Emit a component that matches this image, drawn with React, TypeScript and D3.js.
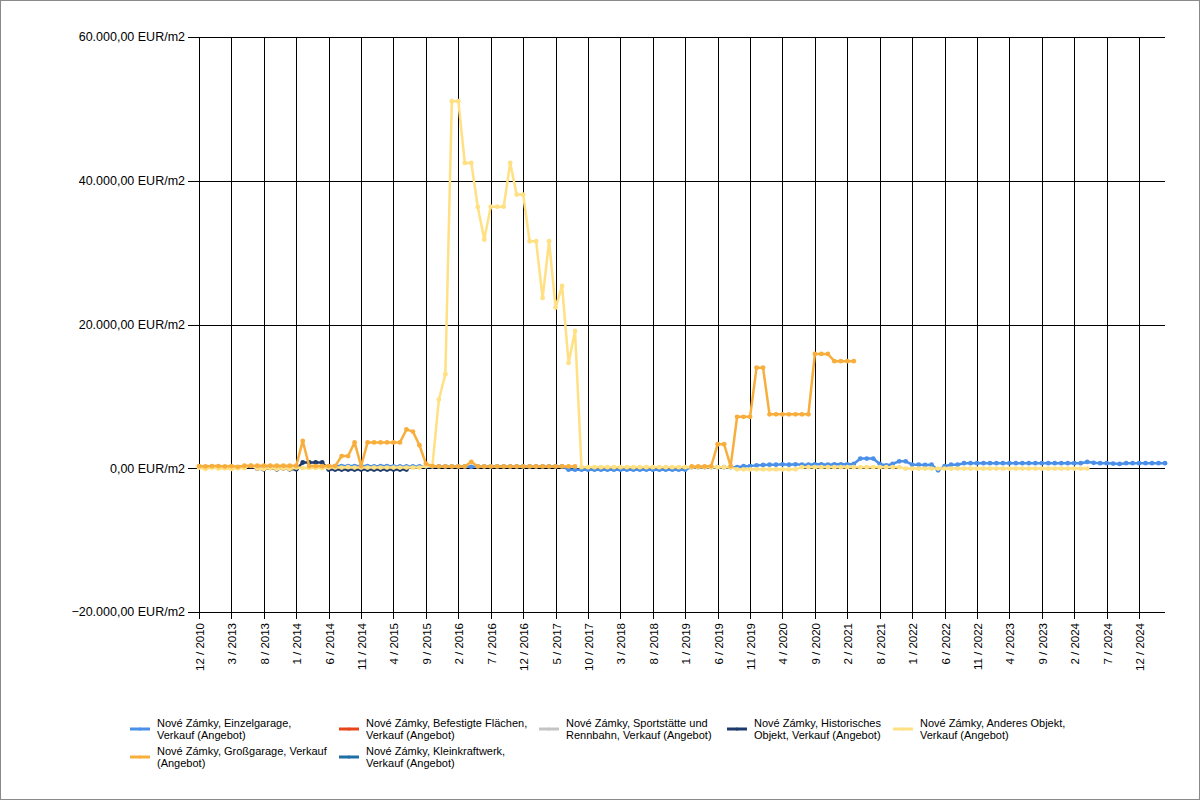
import * as d3 from "d3";

// month categories (x axis), one per data point
function monthRange(y0: number, m0: number, y1: number, m1: number, skip: string[] = []) {
  const out: string[] = [];
  let y = y0, m = m0;
  while (y < y1 || (y === y1 && m <= m1)) {
    const s = `${m} / ${y}`;
    if (!skip.includes(s)) out.push(s);
    m++;
    if (m > 12) { m = 1; y++; }
  }
  return out;
}

const categories: string[] = [
  "12 / 2010", "8 / 2012", "10 / 2012", "12 / 2012", "2 / 2013",
  ...monthRange(2013, 3, 2025, 4, ["5 / 2021"]),
];

const yTicks = [-20000, 0, 20000, 40000, 60000];

const einzelgarage: (number | null)[] = [
  null, null, null, null, null, null, null, null, null, null,
  null, null, null, null, null, null, null, null, null, null,
  250, 300, 300, 300, 300, 300, 300, 250, 300, 300,
  250, 250, 250, 250, 250, 250, 250, 250, 250, 250,
  250, 250, 200, 250, 250, 250, 250, 250, 250, 250,
  250, 250, 250, 250, 250, 250, 250, -200, -200, -200,
  -200, -200, -200, -200, -200, -200, -200, -200, -200, -200,
  -200, -200, -200, -200, -200, -200, 150, 150, 150, 150,
  150, 150, 150, 150, 280, 300, 400, 450, 500, 500,
  550, 500, 550, 500, 500, 550, 550, 500, 550, 550,
  550, 600, 1350, 1350, 1350, 600, 400, 600, 970, 970,
  500, 500, 450, 500, -280, 280, 500, 500, 700, 700,
  700, 700, 700, 700, 700, 700, 700, 700, 700, 700,
  700, 700, 700, 700, 700, 700, 700, 880, 750, 700,
  700, 650, 600, 700, 700, 700, 700, 700, 700, 700,
];

const befestigte: (number | null)[] = [];
const sportstaette: (number | null)[] = [];

const historisches: (number | null)[] = [
  null, null, null, null, null, null, null, 100, 250, -50,
  -150, 50, -150, 0, -150, -150, 800, 800, 800, 800,
  -180, -180, -180, -180, -180, -180, -180, -180, -180, -180,
  -180, -180, -180,
];

const anderes: (number | null)[] = [
  100, -100, 100, -50, 0, -100, 0, 50, 400, -50,
  -100, 50, -100, 0, -100, 100, 50, 50, 50, 50,
  100, 100, 100, 150, 100, 100, 100, 100, 100, 100,
  100, 100, 100, 100, 100, 300, 300, 9560, 13080, 51060,
  51060, 42480, 42480, 36360, 31810, 36400, 36400, 36400, 42480, 38080,
  38080, 31580, 31580, 23700, 31600, 22350, 25370, 14650, 19100, 150,
  150, 150, 150, 150, 150, 150, 150, 150, 150, 150,
  150, 150, 150, 150, 150, 150, 150, 150, 150, 150,
  150, 150, 150, -150, -150, -150, -150, -150, -150, -150,
  -150, -150, -150, 150, 150, 150, 150, 150, 150, 150,
  150, 150, 150, 150, 150, 150, 150, 150, 150, -50,
  -50, -50, -50, -50, -50, -50, -50, -50, -50, -50,
  -50, -50, -50, -50, -50, -50, -50, -50, -50, -50,
  -50, -50, -50, -50, -50, -50, -50, -50,
];

const grossgarage: (number | null)[] = [
  300, 250, 300, 300, 250, 300, 200, 350, 350, 350,
  350, 350, 350, 350, 350, 350, 3800, 300, 300, 300,
  300, 300, 1700, 1700, 3600, 300, 3600, 3600, 3600, 3600,
  3600, 3600, 5400, 5100, 3200, 650, 300, 250, 250, 250,
  250, 250, 900, 250, 250, 250, 250, 250, 250, 250,
  250, 250, 250, 250, 250, 250, 250, 250, 250, null,
  null, null, null, null, null, null, null, null, null, null,
  null, null, null, null, null, null, 250, 250, 250, 300,
  3340, 3340, 300, 7150, 7150, 7150, 14000, 14000, 7500, 7500,
  7500, 7500, 7500, 7500, 7500, 15900, 15900, 15900, 14900, 14900,
  14900, 14900,
];

const kleinkraftwerk: (number | null)[] = [];

interface Series {
  key: string;
  label: string[];
  color: string;
  values: (number | null)[];
}

// drawing order = legend order (legend is 5 columns, filled row by row)
const series: Series[] = [
  { key: "einzel", label: ["Nové Zámky, Einzelgarage,", "Verkauf (Angebot)"], color: "#4a8fe8", values: einzelgarage },
  { key: "befest", label: ["Nové Zámky, Befestigte Flächen,", "Verkauf (Angebot)"], color: "#e8441a", values: befestigte },
  { key: "sport", label: ["Nové Zámky, Sportstätte und", "Rennbahn, Verkauf (Angebot)"], color: "#c4c4c4", values: sportstaette },
  { key: "hist", label: ["Nové Zámky, Historisches", "Objekt, Verkauf (Angebot)"], color: "#1c3a6b", values: historisches },
  { key: "andere", label: ["Nové Zámky, Anderes Objekt,", "Verkauf (Angebot)"], color: "#ffe082", values: anderes },
  { key: "gross", label: ["Nové Zámky, Großgarage, Verkauf", "(Angebot)"], color: "#f8ae3c", values: grossgarage },
  { key: "klein", label: ["Nové Zámky, Kleinkraftwerk,", "Verkauf (Angebot)"], color: "#1f6ea6", values: kleinkraftwerk },
];

const W = 1200;
const H = 800;
const plot = { left: 199, right: 1165, top: 37, bottom: 612 };
const FONT = "'Liberation Sans', Arial, sans-serif";

const de = d3.formatLocale({ decimal: ",", thousands: ".", grouping: [3], currency: ["", ""] });
const fmt = de.format(",.2f");

export default function App() {
  const x = d3.scaleLinear().domain([0, categories.length - 1]).range([plot.left, plot.right]);
  const y = d3.scaleLinear().domain([-20000, 60000]).range([plot.bottom, plot.top]);

  const xTickIdx = d3.range(0, categories.length, 5);

  const line = d3
    .line<number | null>()
    .defined((d) => d != null)
    .x((_, i) => x(i))
    .y((d) => y(d as number));

  const legendCols = [130, 339, 539, 727, 893];
  const legendRows = [729, 757];

  return (
    <svg
      width={W}
      height={H}
      style={{ position: "fixed", left: 0, top: 0, background: "#fff" }}
      fontFamily={FONT}
    >
      <rect x={0.5} y={0.5} width={W - 1} height={H - 1} fill="#fff" stroke="#8a8a8a" />

      {/* horizontal grid + y ticks */}
      {yTicks.map((t) => (
        <g key={t}>
          <line x1={188} x2={plot.right} y1={Math.round(y(t)) + 0.5} y2={Math.round(y(t)) + 0.5} stroke="#000" />
          <text x={185} y={y(t)} dy="0.35em" textAnchor="end" fontSize={12.5} fill="#000">
            {fmt(t)} EUR/m2
          </text>
        </g>
      ))}

      {/* vertical grid + x ticks */}
      {xTickIdx.map((i) => {
        const px = Math.round(x(i)) + 0.5;
        return (
          <g key={i}>
            <line x1={px} x2={px} y1={plot.top} y2={plot.bottom + 7} stroke="#000" />
            <text
              transform={`translate(${px},${plot.bottom + 11}) rotate(-90)`}
              textAnchor="end"
              dy="0.35em"
              fontSize={11.5}
              fill="#000"
            >
              {categories[i]}
            </text>
          </g>
        );
      })}

      {/* series */}
      {series.map((s) => (
        <g key={s.key}>
          <path d={line(s.values) ?? ""} fill="none" stroke={s.color} strokeWidth={2.5} strokeLinejoin="round" />
          {s.values.map((v, i) =>
            v == null ? null : <circle key={i} cx={x(i)} cy={y(v)} r={2.4} fill={s.color} />
          )}
        </g>
      ))}

      {/* legend */}
      {series.map((s, k) => {
        const cx = legendCols[k % 5];
        const cy = legendRows[Math.floor(k / 5)];
        return (
          <g key={s.key}>
            <line x1={cx} x2={cx + 20} y1={cy} y2={cy} stroke={s.color} strokeWidth={3} />
            <circle cx={cx + 10} cy={cy} r={1.6} fill={s.color} />
            {s.label.map((t, j) => (
              <text key={j} x={cx + 27} y={cy - 2 + j * 12} fontSize={11} fill="#000">
                {t}
              </text>
            ))}
          </g>
        );
      })}
    </svg>
  );
}
